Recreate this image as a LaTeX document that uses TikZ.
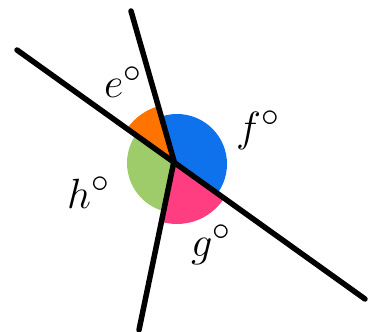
\documentclass[tikz,border=0pt]{standalone}
\usepackage{graphicx}
\usetikzlibrary{calc}
\definecolor{angO}{HTML}{FF7300}
\definecolor{angB}{HTML}{0E72ED}
\definecolor{angG}{HTML}{9FCC6B}
\definecolor{angP}{HTML}{FF3E82}
\newcommand{\biglbl}[1]{\scalebox{1.7}{\Huge$#1^\circ$}}
\tikzset{
  ray/.style={line width=5.5pt, line cap=round, line join=round, black},
  lbl/.style={inner sep=0pt, anchor=base west}
}
\begin{document}
\begin{tikzpicture}[x=1pt,y=-1pt]
\useasboundingbox (0,0) rectangle (368,332);
\coordinate (O) at (174,161);
\coordinate (UL) at (17,50);
\coordinate (LR) at (365,299);
\coordinate (Up) at (131,11);
\coordinate (Dn) at (139,330);
% orange sector
\begin{scope}
\clip (O) -- ($(O)!3!(UL)$) -- ($(O)!3!(Up)$) -- cycle;
\fill[angO] (O) circle (57);
\end{scope}
% blue sector
\begin{scope}
\clip (O) -- ($(O)!3!(Up)$) -- ($(O)!3!(Up)+(600,0)$) -- ($(O)!3!(LR)$) -- cycle;
\fill[angB] (177,164) circle (50);
\end{scope}
% pink sector
\begin{scope}
\clip (O) -- ($(O)!3!(LR)$) -- ($(O)!3!(Dn)$) -- cycle;
\fill[angP] (177,168) circle (56);
\end{scope}
% green sector
\begin{scope}
\clip (O) -- ($(O)!3!(Dn)$) -- ($(O)!3!(Dn)+(-600,0)$) -- ($(O)!3!(UL)$) -- cycle;
\fill[angG] (177,163) circle (50);
\end{scope}
% lines
\draw[ray] (UL) -- (LR);
\draw[ray] (Up) -- (O) -- (Dn);
% labels
\node[lbl] (e) at (104,98) {\biglbl{e}};
\node[lbl] (f) at (236,142) {\biglbl{f}};
\node[lbl] (h) at (67,208) {\biglbl{h}};
\node[lbl] (g) at (191,256) {\biglbl{g}};
\end{tikzpicture}
\end{document}
